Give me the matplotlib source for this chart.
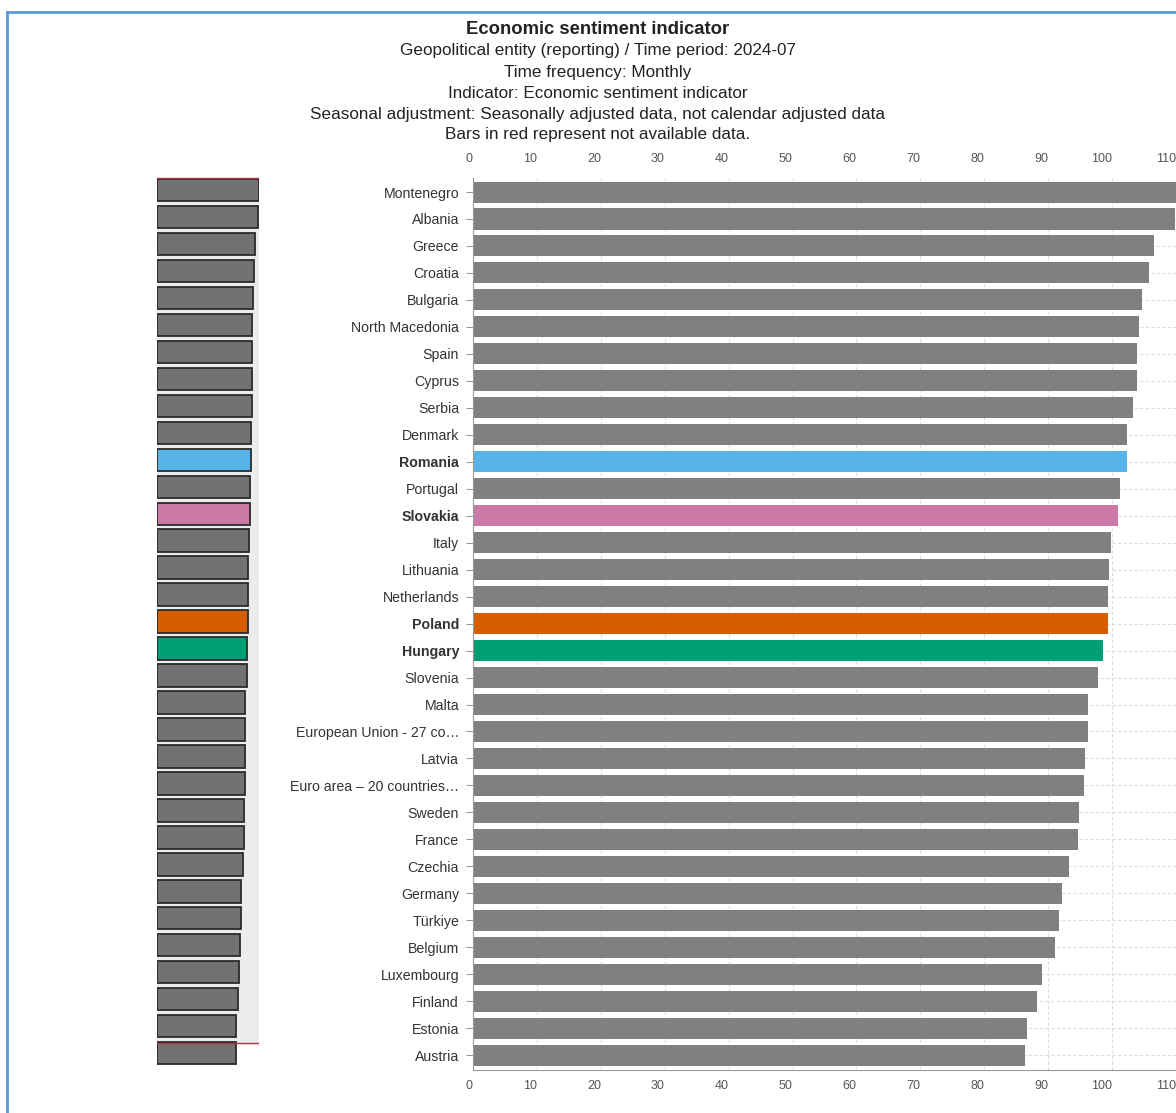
import matplotlib.pyplot as plt
from matplotlib.lines import Line2D

# Data (Economic sentiment indicator, 2024-07)
countries = ["Montenegro", "Albania", "Greece", "Croatia", "Bulgaria", "North Macedonia",
             "Spain", "Cyprus", "Serbia", "Denmark", "Romania", "Portugal", "Slovakia",
             "Italy", "Lithuania", "Netherlands", "Poland", "Hungary", "Slovenia", "Malta",
             "European Union - 27 co\u2026", "Latvia", "Euro area \u2013 20 countries\u2026",
             "Sweden", "France", "Czechia", "Germany", "T\u00fcrkiye", "Belgium",
             "Luxembourg", "Finland", "Estonia", "Austria"]
values = [111.3, 109.9, 106.6, 105.8, 104.7, 104.2, 103.9, 103.9, 103.2, 102.3,
          102.3, 101.2, 101.0, 99.9, 99.5, 99.4, 99.4, 98.6, 97.8, 96.3,
          96.2, 95.7, 95.6, 94.9, 94.6, 93.3, 92.1, 91.7, 91.0, 89.1,
          88.3, 86.7, 86.3]
highlight = {"Romania": "#56B4E9", "Slovakia": "#CC79A7", "Poland": "#D55E00", "Hungary": "#009E73"}
xticks = [0, 10, 20, 30, 40, 50, 60, 70, 80, 90, 100, 110]

title = "Economic sentiment indicator"
subtitle = ["Geopolitical entity (reporting) / Time period: 2024-07",
            "Time frequency: Monthly",
            "Indicator: Economic sentiment indicator",
            "Seasonal adjustment: Seasonally adjusted data, not calendar adjusted data",
            "Bars in red represent not available data."]

plt.rcParams['font.family'] = ['Liberation Sans', 'DejaVu Sans']

W, H = 1176, 1113
fig = plt.figure(figsize=(W / 100, H / 100), dpi=100)

n = len(countries)
ypos = list(range(n))
colors = [highlight.get(c, "#808080") for c in countries]
ylim = (n - 1 + 0.55, -0.52)

# main chart
ax = fig.add_axes([473 / W, (H - 1070) / H, (W - 473) / W, 892 / H])
ax.barh(ypos, values, height=0.78, color=colors, zorder=2)
ax.set_xlim(0, 110)
ax.set_ylim(*ylim)
ax.set_yticks(ypos)
ax.set_yticklabels(countries, fontsize=10.2, color="#333333")
for lbl in ax.get_yticklabels():
    if lbl.get_text() in highlight:
        lbl.set_fontweight("bold")
ax.tick_params(axis="y", length=5, width=0.8, color="#999999", pad=5)
ax.set_xticks(xticks)
ax.tick_params(axis="x", length=0, labelsize=9, labelcolor="#555555", pad=7)
for lbl in ax.get_xticklabels():
    lbl.set_ha("right")
ax.grid(True, color="#dddddd", linestyle=(0, (3, 2)), linewidth=0.8, zorder=0)
ax.set_axisbelow(True)
for s in ["top", "right"]:
    ax.spines[s].set_visible(False)
ax.spines["left"].set_color("#999999")
ax.spines["bottom"].set_color("#999999")

top = ax.secondary_xaxis("top")
top.set_xticks(xticks)
top.tick_params(length=0, labelsize=9, labelcolor="#555555", pad=9)
top.spines["top"].set_visible(False)
for lbl in top.get_xticklabels():
    lbl.set_ha("right")

# overview / navigator chart on the left
mini = fig.add_axes([157 / W, (H - 1068) / H, 102 / W, 892 / H])
mini.set_xlim(0, max(values))
mini.set_ylim(*ylim)
mini.axhspan(-0.45, 31.63, color="#ececec", zorder=0)
mini_colors = [highlight.get(c, "#727272") for c in countries]
mini.barh(ypos, values, height=0.83, color=mini_colors, edgecolor="#2b2b2b",
          linewidth=1.3, zorder=2)
mini.axhline(-0.45, color="#b0353a", linewidth=1, zorder=3)
mini.axhline(31.63, color="#b0353a", linewidth=1, zorder=3)
mini.axis("off")

# titles
fig.text(598 / W, 1 - 29 / H, title, ha="center", va="center", fontsize=13.3,
         fontweight="bold", color="#222222")
for i, line in enumerate(subtitle):
    fig.text(598 / W, 1 - (51 + 21 * i) / H, line, ha="center", va="center",
             fontsize=12.3, color="#222222")

# blue frame
fig.add_artist(Line2D([7 / W, 7 / W], [0, 1 - 12 / H], color="#5b9bd5", linewidth=2))
fig.add_artist(Line2D([7 / W, 1], [1 - 12 / H, 1 - 12 / H], color="#5b9bd5", linewidth=2))

fig.savefig("out.png", dpi=100)
